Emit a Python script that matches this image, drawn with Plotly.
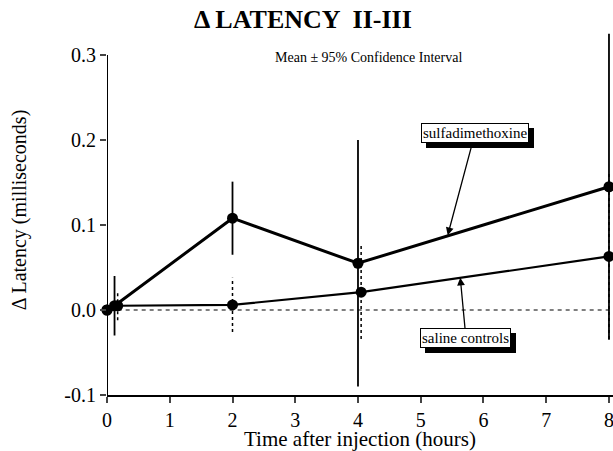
import plotly.graph_objects as go

# Data
sulfa_x = [0, 0.12, 2, 4, 8]
sulfa_y = [0.0, 0.005, 0.108, 0.055, 0.145]
sulfa_err = [0.25, 0.035, 0.043, 0.145, 0.18]

saline_x = [0, 0.17, 2, 4.05, 8]
saline_y = [0.0, 0.005, 0.006, 0.021, 0.063]
saline_err = [0.0, 0.017, 0.032, 0.055, 0.097]

baseline_x = [0.17, 8]
baseline_y = [0.0, 0.0]

x_ticks = [0, 1, 2, 3, 4, 5, 6, 7, 8]
y_ticks = [-0.1, 0.0, 0.1, 0.2, 0.3]
y_tick_labels = ["-0.1", "0.0", "0.1", "0.2", "0.3"]

SERIF = "Liberation Serif, Times New Roman, serif"

W, H = 613, 451
ML, MR, MT, MB = 107, 0, 25, 56
PW, PH = W - ML - MR, H - MT - MB


def err_segments(xs, ys, es):
    sx, sy = [], []
    for x, y, e in zip(xs, ys, es):
        if e > 0:
            sx += [x, x, None]
            sy += [y - e, y + e, None]
    return sx, sy


fig = go.Figure()

# zero reference line
fig.add_trace(go.Scatter(x=baseline_x, y=baseline_y, mode="lines",
                         line=dict(color="black", width=1.2, dash="4px,4px"),
                         hoverinfo="skip", showlegend=False))

# error bars
sx, sy = err_segments(saline_x, saline_y, saline_err)
fig.add_trace(go.Scatter(x=sx, y=sy, mode="lines",
                         line=dict(color="black", width=1.5, dash="dot"),
                         hoverinfo="skip", showlegend=False))
sx, sy = err_segments(sulfa_x, sulfa_y, sulfa_err)
fig.add_trace(go.Scatter(x=sx, y=sy, mode="lines",
                         line=dict(color="black", width=1.8),
                         hoverinfo="skip", showlegend=False))

# series
fig.add_trace(go.Scatter(x=saline_x, y=saline_y, mode="lines+markers", name="saline controls",
                         line=dict(color="black", width=2.2),
                         marker=dict(color="black", size=11),
                         cliponaxis=False, showlegend=False))
fig.add_trace(go.Scatter(x=sulfa_x, y=sulfa_y, mode="lines+markers", name="sulfadimethoxine",
                         line=dict(color="black", width=3),
                         marker=dict(color="black", size=11),
                         cliponaxis=False, showlegend=False))

# left axis line (0.3 to -0.1)
fig.add_shape(type="line", xref="x", yref="y", x0=0, x1=0, y0=-0.1, y1=0.3,
              line=dict(color="black", width=2))

labels = [
    ("sulfadimethoxine", 5.43, 0.088, 5.865, 0.208),
    ("saline controls", 5.63, 0.038, 5.72, -0.033),
]
for text, tx, ty, bx, by in labels:
    fig.add_annotation(x=bx, y=by, xref="x", yref="y", text=text, showarrow=False,
                       xshift=5, yshift=-5,
                       font=dict(family=SERIF, size=15, color="black"),
                       bgcolor="black", bordercolor="black", borderwidth=1, borderpad=1)
    fig.add_annotation(x=tx, y=ty, xref="x", yref="y", ax=bx, ay=by, axref="x", ayref="y",
                       text=text, showarrow=True, arrowhead=2, arrowsize=1.2, arrowwidth=1.3,
                       arrowcolor="black", standoff=0,
                       font=dict(family=SERIF, size=15, color="black"),
                       bgcolor="white", bordercolor="black", borderwidth=1, borderpad=1)

# title and subtitle (positioned in paper coordinates from pixel targets)
fig.add_annotation(x=(303 - ML) / PW, y=(H - MB - 20) / PH, xref="paper", yref="paper",
                   text="<b>Δ LATENCY  II-III</b>", showarrow=False, yanchor="middle",
                   font=dict(family=SERIF, size=26, color="black"))
fig.add_annotation(x=(368 - ML) / PW, y=(H - MB - 57) / PH, xref="paper", yref="paper",
                   text="Mean ± 95% Confidence Interval", showarrow=False, yanchor="middle",
                   font=dict(family=SERIF, size=14, color="black"))

fig.update_layout(
    width=W, height=H,
    margin=dict(l=ML, r=MR, t=MT, b=MB),
    paper_bgcolor="white", plot_bgcolor="white",
    font=dict(family=SERIF, color="black"),
    xaxis=dict(range=[0, 8.064], tickvals=x_ticks, ticks="outside", ticklen=6, tickwidth=2,
               showline=True, linecolor="black", linewidth=2, showgrid=False, zeroline=False,
               automargin=False, ticklabeloverflow="allow",
               tickfont=dict(family=SERIF, size=20, color="black"),
               title=dict(text="Time after injection (hours)", standoff=5,
                          font=dict(family=SERIF, size=21, color="black"))),
    yaxis=dict(range=[-0.1, 0.3353], tickvals=y_ticks, ticktext=y_tick_labels,
               ticks="outside", ticklen=6, tickwidth=2,
               showline=False, showgrid=False, zeroline=False, automargin=False,
               tickfont=dict(family=SERIF, size=20, color="black"),
               title=dict(text="Δ Latency (milliseconds)", standoff=32,
                          font=dict(family=SERIF, size=20, color="black"))),
)

fig.write_html("out.html", config={"displayModeBar": False},
               post_script="document.body.style.margin='0px';")
